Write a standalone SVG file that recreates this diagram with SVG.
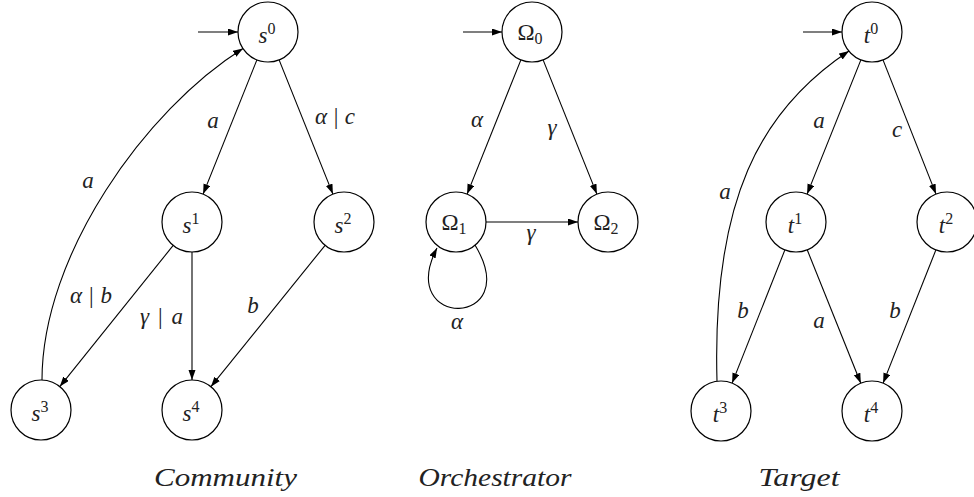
<svg xmlns="http://www.w3.org/2000/svg" width="974" height="497" viewBox="0 0 974 497">
  <style>
    .state { fill: #ffffff; stroke: #000000; stroke-width: 1.2; }
    .edge { fill: none; stroke: #000000; stroke-width: 1.1; marker-end: url(#arrow); }
    .lbl { font-size: 23px; fill: #222222; }
    .it { font-style: italic; }
    .idx { font-size: 16px; font-style: normal; }
    .cap { font-size: 25px; font-style: italic; fill: #222222; text-anchor: middle; }
  </style>
  <defs>
    <marker id="arrow" markerUnits="userSpaceOnUse" markerWidth="11" markerHeight="8" refX="10" refY="3.5" orient="auto">
      <path d="M0,0 L10,3.5 L0,7 z" fill="#000000"/>
    </marker>
  </defs>

  <rect width="974" height="497" fill="#ffffff"/>

  <!-- transitions -->
  <g id="connectors">
    <!-- community -->
    <line class="edge" x1="198" y1="32" x2="238" y2="32"/>
    <line class="edge" x1="256.9" y1="59.9" x2="203.1" y2="194.1"/>
    <line class="edge" x1="279.1" y1="59.9" x2="332.9" y2="194.1"/>
    <line class="edge" x1="173.2" y1="245.4" x2="59.8" y2="386.6"/>
    <line class="edge" x1="192" y1="252" x2="192" y2="380"/>
    <line class="edge" x1="325.1" y1="245.3" x2="210.9" y2="386.7"/>
    <path class="edge" d="M42,380 C42,255 145,110 243,48.5"/>
    <!-- orchestrator -->
    <line class="edge" x1="463" y1="32" x2="502" y2="32"/>
    <line class="edge" x1="520.9" y1="59.9" x2="467.1" y2="194.1"/>
    <line class="edge" x1="543.1" y1="59.9" x2="596.9" y2="194.1"/>
    <line class="edge" x1="486" y1="222" x2="578" y2="222"/>
    <path class="edge" d="M475,245 C525,328 395,330 437,248"/>
    <!-- target -->
    <line class="edge" x1="803" y1="32" x2="842" y2="32"/>
    <line class="edge" x1="860.9" y1="59.9" x2="807.1" y2="194.1"/>
    <line class="edge" x1="883.0" y1="59.9" x2="936.0" y2="194.1"/>
    <line class="edge" x1="784.9" y1="249.9" x2="732.1" y2="383.1"/>
    <line class="edge" x1="807.2" y1="249.8" x2="860.8" y2="383.2"/>
    <line class="edge" x1="935.9" y1="249.9" x2="883.1" y2="383.1"/>
    <path class="edge" d="M717,381 C712,200 760,110 849,51"/>
  </g>

  <!-- transition labels -->
  <g id="edge-labels" class="lbl" font-family="Liberation Serif, DejaVu Serif, serif">
    <text class="it" x="213" y="128" text-anchor="middle">a</text>
    <text x="335" y="124" text-anchor="middle" textLength="40" lengthAdjust="spacing"><tspan class="it">α</tspan>|<tspan class="it">c</tspan></text>
    <text class="it" x="88" y="188" text-anchor="middle">a</text>
    <text x="91" y="303" text-anchor="middle" textLength="42" lengthAdjust="spacing"><tspan class="it">α</tspan>|<tspan class="it">b</tspan></text>
    <text x="161.5" y="324" text-anchor="middle" textLength="43" lengthAdjust="spacing"><tspan class="it">γ</tspan>|<tspan class="it">a</tspan></text>
    <text class="it" x="253" y="313" text-anchor="middle">b</text>

    <text class="it" x="477" y="127" text-anchor="middle">α</text>
    <text class="it" x="552" y="135" text-anchor="middle">γ</text>
    <text class="it" x="531" y="240" text-anchor="middle">γ</text>
    <text class="it" x="457" y="329" text-anchor="middle">α</text>

    <text class="it" x="819" y="128" text-anchor="middle">a</text>
    <text class="it" x="897" y="137" text-anchor="middle">c</text>
    <text class="it" x="725" y="199" text-anchor="middle">a</text>
    <text class="it" x="743" y="318" text-anchor="middle">b</text>
    <text class="it" x="819" y="328" text-anchor="middle">a</text>
    <text class="it" x="895" y="318" text-anchor="middle">b</text>
  </g>

  <!-- state nodes -->
  <g font-family="Liberation Serif, DejaVu Serif, serif">
    <!-- community -->
    <g id="s0"><circle class="state" cx="268" cy="32" r="30"/><text class="lbl it" x="267" y="42.5" text-anchor="middle">s<tspan class="idx" dy="-8.5">0</tspan></text></g>
    <g id="s1"><circle class="state" cx="192" cy="222" r="30"/><text class="lbl it" x="191" y="232.5" text-anchor="middle">s<tspan class="idx" dy="-8.5">1</tspan></text></g>
    <g id="s2"><circle class="state" cx="344" cy="222" r="30"/><text class="lbl it" x="343" y="232.5" text-anchor="middle">s<tspan class="idx" dy="-8.5">2</tspan></text></g>
    <g id="s3"><circle class="state" cx="41" cy="410" r="30"/><text class="lbl it" x="40" y="420.5" text-anchor="middle">s<tspan class="idx" dy="-8.5">3</tspan></text></g>
    <g id="s4"><circle class="state" cx="192" cy="410" r="30"/><text class="lbl it" x="191" y="420.5" text-anchor="middle">s<tspan class="idx" dy="-8.5">4</tspan></text></g>

    <!-- orchestrator -->
    <g id="o0"><circle class="state" cx="532" cy="32" r="30"/><text class="lbl" x="530" y="40" text-anchor="middle">Ω<tspan class="idx" dy="4">0</tspan></text></g>
    <g id="o1"><circle class="state" cx="456" cy="222" r="30"/><text class="lbl" x="454" y="230" text-anchor="middle">Ω<tspan class="idx" dy="4">1</tspan></text></g>
    <g id="o2"><circle class="state" cx="608" cy="222" r="30"/><text class="lbl" x="606" y="230" text-anchor="middle">Ω<tspan class="idx" dy="4">2</tspan></text></g>

    <!-- target -->
    <g id="t0"><circle class="state" cx="872" cy="32" r="30"/><text class="lbl it" x="871" y="42.5" text-anchor="middle">t<tspan class="idx" dy="-8.5">0</tspan></text></g>
    <g id="t1"><circle class="state" cx="796" cy="222" r="30"/><text class="lbl it" x="795" y="232.5" text-anchor="middle">t<tspan class="idx" dy="-8.5">1</tspan></text></g>
    <g id="t2"><circle class="state" cx="947" cy="222" r="30"/><text class="lbl it" x="946" y="232.5" text-anchor="middle">t<tspan class="idx" dy="-8.5">2</tspan></text></g>
    <g id="t3"><circle class="state" cx="721" cy="411" r="30"/><text class="lbl it" x="720" y="421.5" text-anchor="middle">t<tspan class="idx" dy="-8.5">3</tspan></text></g>
    <g id="t4"><circle class="state" cx="872" cy="411" r="30"/><text class="lbl it" x="871" y="421.5" text-anchor="middle">t<tspan class="idx" dy="-8.5">4</tspan></text></g>
  </g>

  <!-- captions -->
  <g id="captions" font-family="Liberation Serif, DejaVu Serif, serif">
    <text class="cap" x="225.5" y="486" textLength="143" lengthAdjust="spacingAndGlyphs">Community</text>
    <text class="cap" x="495" y="486" textLength="153" lengthAdjust="spacingAndGlyphs">Orchestrator</text>
    <text class="cap" x="799" y="486" textLength="81" lengthAdjust="spacingAndGlyphs">Target</text>
  </g>
</svg>
